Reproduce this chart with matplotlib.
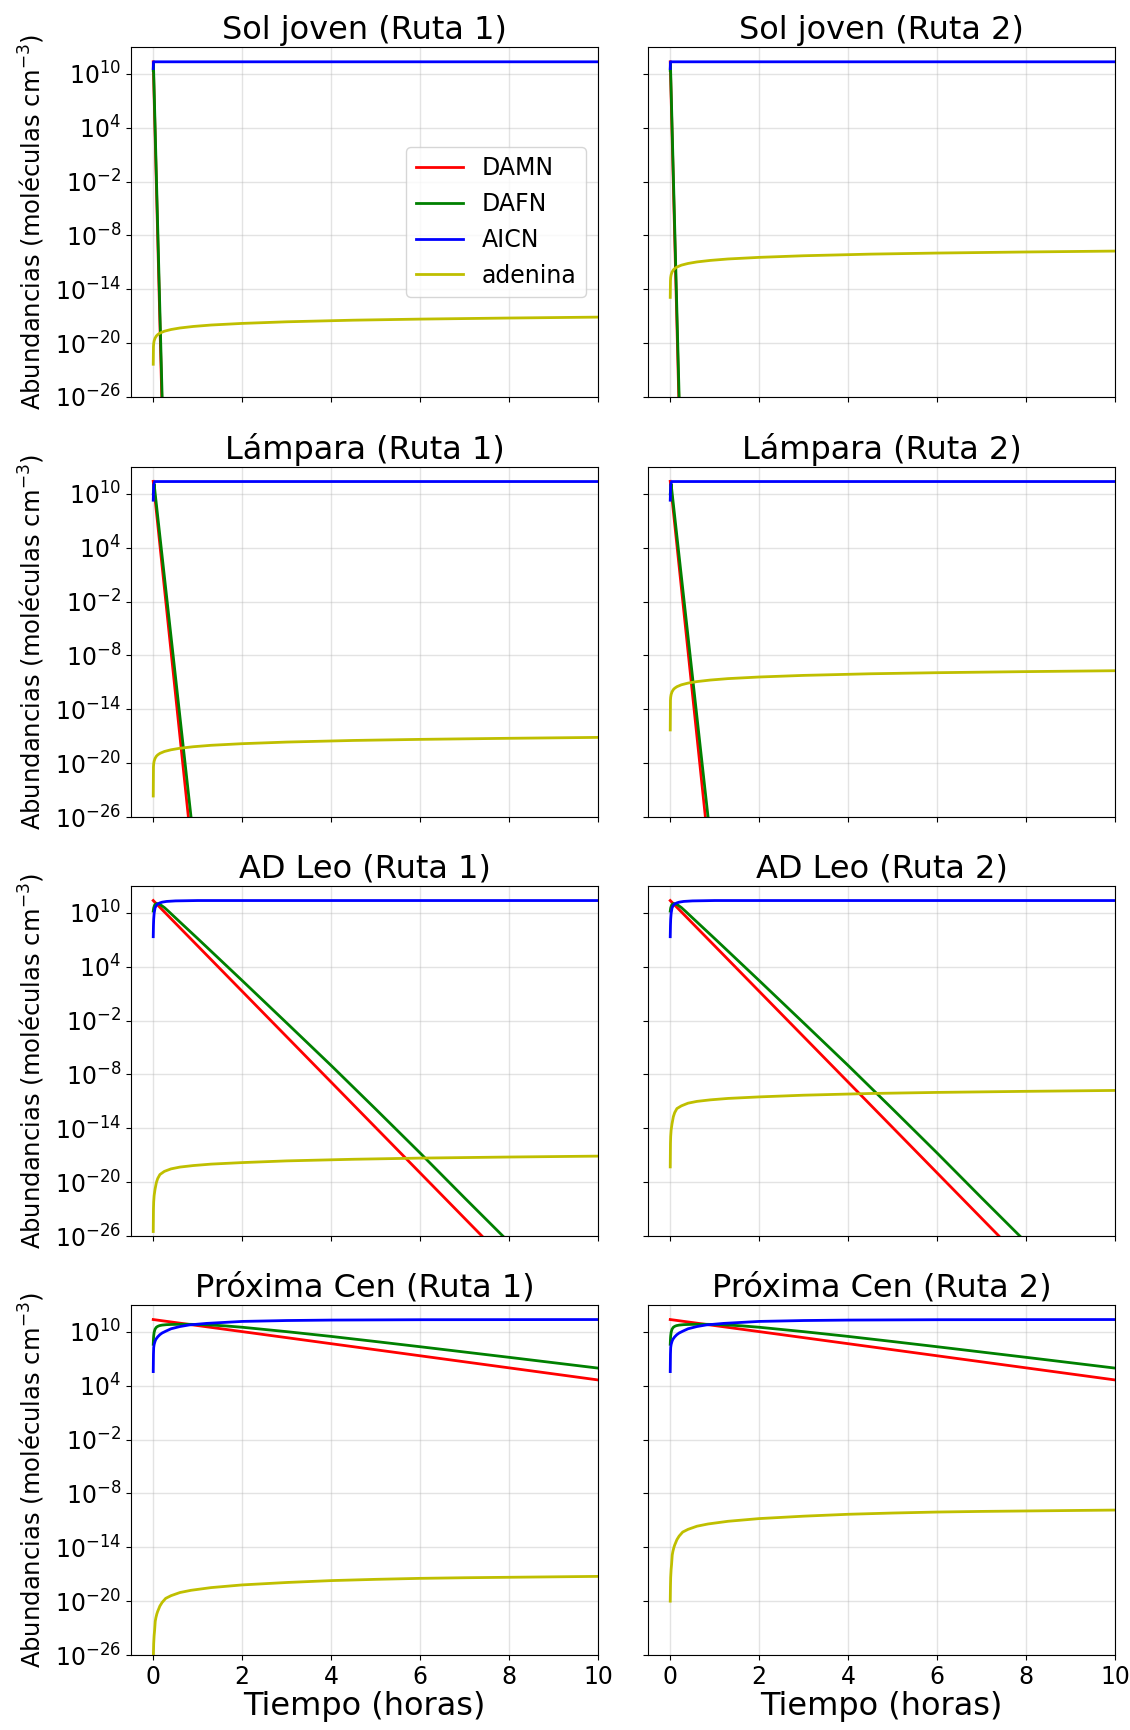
import matplotlib
matplotlib.use("Agg")
import matplotlib.pyplot as plt
import numpy as np
from matplotlib.ticker import FixedLocator, NullLocator, LogFormatterSciNotation

# ---------------- data (log10 of abundance) ----------------
stars = ["Sol joven", "Lámpara", "AD Leo", "Próxima Cen"]
species = ["DAMN", "DAFN", "AICN", "adenina"]
colors = ["r", "g", "b", "y"]
yticks_exp = [-26, -20, -14, -8, -2, 4, 10]

# common time grid for adenina (hours) in Sol joven, Lámpara and AD Leo
t_ade = [0, 0.005, 0.01, 0.02, 0.04, 0.07, 0.1, 0.15, 0.25, 0.4, 0.6, 0.9, 1.3, 2, 3, 4.5, 6, 8, 10]

# Sol joven
sol_t_damn = [0, 0.192]
sol_damn = [11.35, -26]
sol_t_dafn = [0, 0.005, 0.2]
sol_dafn = [10.4, 11.1, -26]
sol_t_aicn = [0, 0.005, 10]
sol_aicn = [10.6, 11.35, 11.35]
sol_ade_r1 = [-22.35, -20.4, -20.05, -19.75, -19.45, -19.2, -19.05, -18.88, -18.67, -18.48,
              -18.31, -18.14, -17.98, -17.8, -17.62, -17.44, -17.32, -17.2, -17.1]
sol_ade_r2 = [-14.9, -13.04, -12.69, -12.39, -12.09, -11.84, -11.69, -11.52, -11.31, -11.12,
              -10.95, -10.78, -10.62, -10.44, -10.26, -10.08, -9.96, -9.84, -9.74]

# Lámpara
lam_t_damn = [0, 0.79]
lam_damn = [11.4, -26]
lam_t_dafn = [0, 0.02, 0.85]
lam_dafn = [10.0, 11.1, -26]
lam_t_aicn = [0, 0.01, 0.03, 10]
lam_aicn = [9.3, 11.0, 11.38, 11.38]
lam_ade_r1 = [-23.66, -20.43, -20.08, -19.78, -19.48, -19.23, -19.08, -18.91, -18.7, -18.51,
              -18.34, -18.17, -18.01, -17.83, -17.65, -17.47, -17.35, -17.23, -17.13]
lam_ade_r2 = [-16.3, -13.0, -12.65, -12.35, -12.05, -11.8, -11.65, -11.48, -11.27, -11.08,
              -10.91, -10.74, -10.58, -10.4, -10.22, -10.04, -9.92, -9.8, -9.7]

# AD Leo
adl_t_damn = [0, 7.39]
adl_damn = [11.38, -26]
adl_t_dafn = [0, 0.01, 0.03, 0.05, 0.08, 0.12, 0.17, 0.25, 0.35, 0.5, 1, 2, 3, 4, 5, 6, 7, 7.86]
adl_dafn = [10.2, 10.55, 10.85, 10.98, 11.04, 11.0, 10.88, 10.6, 10.15, 9.45, 7.14, 2.46,
            -2.26, -7.0, -11.85, -16.75, -21.75, -26]
adl_t_aicn = [0, 0.005, 0.01, 0.02, 0.04, 0.07, 0.1, 0.15, 0.2, 0.3, 0.5, 1, 10]
adl_aicn = [7.35, 8.6, 9.3, 9.95, 10.55, 10.85, 11.0, 11.12, 11.2, 11.28, 11.34, 11.38, 11.38]
adl_ade_r1 = [-25.5, -23.0, -22.2, -21.5, -20.8, -20.05, -19.6, -19.15, -18.8, -18.52,
              -18.32, -18.15, -17.99, -17.82, -17.63, -17.45, -17.32, -17.2, -17.1]
adl_ade_r2 = [-18.3, -15.7, -14.9, -14.2, -13.5, -12.7, -12.25, -11.8, -11.5, -11.2,
              -11.0, -10.83, -10.67, -10.5, -10.31, -10.12, -10.0, -9.88, -9.78]

# Próxima Cen
prx_t_damn = [0, 10]
prx_damn = [11.38, 4.65]
prx_t_dafn = [0, 0.005, 0.01, 0.02, 0.04, 0.07, 0.1, 0.14, 0.2, 0.3, 0.4, 0.6, 0.8, 1.0,
              1.3, 1.6, 2, 3, 4, 5, 6, 7, 8, 9, 10]
prx_dafn = [8.62, 9.2, 9.55, 9.95, 10.3, 10.52, 10.62, 10.7, 10.76, 10.81, 10.83, 10.85,
            10.85, 10.83, 10.77, 10.68, 10.52, 10.03, 9.5, 8.93, 8.35, 7.76, 7.17, 6.57, 5.97]
prx_t_aicn = [0, 0.005, 0.01, 0.02, 0.04, 0.06, 0.1, 0.15, 0.2, 0.29, 0.4, 0.6, 0.81,
              1.2, 2, 3, 4, 6, 10]
prx_aicn = [5.58, 7.5, 8.25, 8.6, 8.95, 9.18, 9.45, 9.7, 9.88, 10.1, 10.35, 10.6, 10.78,
            10.95, 11.17, 11.27, 11.32, 11.36, 11.38]
prx_t_ade = [0, 0.005, 0.01, 0.02, 0.03, 0.045, 0.06, 0.08, 0.1, 0.15, 0.2, 0.28, 0.4, 0.6,
             0.85, 1.3, 2, 3, 4, 5, 6, 7, 8, 9, 10]
prx_ade_r1 = [-27.4, -25.74, -24.74, -23.84, -23.29, -22.24, -21.84, -21.44, -21.14, -20.54,
              -20.14, -19.69, -19.39, -19.04, -18.79, -18.49, -18.19, -17.92, -17.71,
              -17.57, -17.46, -17.39, -17.34, -17.29, -17.24]
prx_ade_r2 = [-20.0, -18.35, -17.35, -16.45, -15.9, -14.85, -14.45, -14.05, -13.75, -13.15,
              -12.75, -12.3, -12.0, -11.65, -11.4, -11.1, -10.8, -10.53, -10.32, -10.18,
              -10.07, -10.0, -9.95, -9.9, -9.85]

panels = [
    [(sol_t_damn, sol_damn), (sol_t_dafn, sol_dafn), (sol_t_aicn, sol_aicn),
     (t_ade, sol_ade_r1), (t_ade, sol_ade_r2)],
    [(lam_t_damn, lam_damn), (lam_t_dafn, lam_dafn), (lam_t_aicn, lam_aicn),
     (t_ade, lam_ade_r1), (t_ade, lam_ade_r2)],
    [(adl_t_damn, adl_damn), (adl_t_dafn, adl_dafn), (adl_t_aicn, adl_aicn),
     (t_ade, adl_ade_r1), (t_ade, adl_ade_r2)],
    [(prx_t_damn, prx_damn), (prx_t_dafn, prx_dafn), (prx_t_aicn, prx_aicn),
     (prx_t_ade, prx_ade_r1), (prx_t_ade, prx_ade_r2)],
]

# ---------------- figure ----------------
W, H = 1130, 1730
fig = plt.figure(figsize=(W / 100, H / 100), dpi=100)
lefts = [131, 648]
tops = [47, 467, 886, 1305]
aw, ah = 467, 350

for r, star in enumerate(stars):
    damn, dafn, aicn, ade1, ade2 = panels[r]
    for c in range(2):
        ax = fig.add_axes([lefts[c] / W, 1 - (tops[r] + ah) / H, aw / W, ah / H])
        ade = ade1 if c == 0 else ade2
        for (t, v), col, lab in zip([damn, dafn, aicn, ade], colors, species):
            ax.plot(t, 10.0 ** np.array(v), color=col, lw=2, label=lab)
        ax.set_yscale("log")
        ax.set_xlim(-0.5, 10)
        ax.set_ylim(1e-26, 1e13)
        ax.yaxis.set_major_locator(FixedLocator([10.0 ** e for e in yticks_exp]))
        ax.yaxis.set_major_formatter(LogFormatterSciNotation())
        ax.yaxis.set_minor_locator(NullLocator())
        ax.set_xticks([0, 2, 4, 6, 8, 10])
        ax.grid(True, color="#b0b0b0", alpha=0.35, lw=1)
        ax.tick_params(labelsize=17)
        ax.set_title(f"{star} (Ruta {c + 1})", fontsize=23, pad=6)
        if c == 0:
            ax.set_ylabel("Abundancias (moléculas cm$^{-3}$)", fontsize=17.5, labelpad=6)
        else:
            ax.tick_params(labelleft=False)
        if r < 3:
            ax.tick_params(labelbottom=False)
        else:
            ax.set_xlabel("Tiempo (horas)", fontsize=23, labelpad=2)
        if r == 0 and c == 0:
            ax.legend(loc="center right", fontsize=17, handlelength=2.0)

fig.savefig("out.png", dpi=100)
